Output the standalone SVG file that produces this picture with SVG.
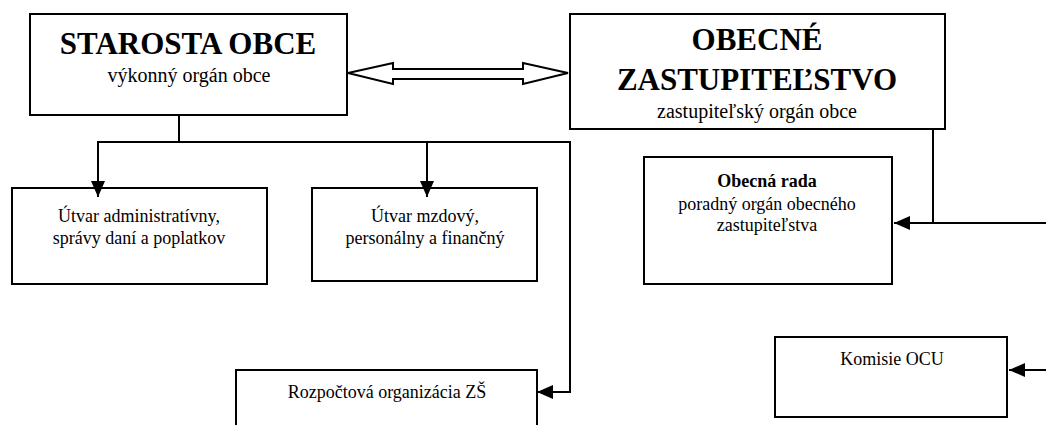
<svg xmlns="http://www.w3.org/2000/svg" width="1046" height="425" viewBox="0 0 1046 425">
<style>
.box{fill:#fff;stroke:#000;stroke-width:2}
.c{fill:none;stroke:#000;stroke-width:2}
</style>
<defs>
<marker id="ah" markerUnits="userSpaceOnUse" markerWidth="16" markerHeight="14" refX="16" refY="7" orient="auto">
<path d="M0,0 L16,7 L0,14 Z" fill="#000"/>
</marker>
</defs>
<rect width="1046" height="425" fill="#fff"/>
<g id="starosta" font-family="Liberation Serif" text-anchor="middle" fill="#000">
<rect class="box" x="30" y="14" width="317" height="101"/>
<text x="188" y="54" font-family="Liberation Serif" font-size="31" font-weight="bold">STAROSTA OBCE</text>
<text x="189" y="82" font-family="Liberation Serif" font-size="20">výkonný orgán obce</text>
</g>
<g id="zastupitelstvo" font-family="Liberation Serif" text-anchor="middle" fill="#000">
<rect class="box" x="570" y="14" width="375" height="115"/>
<text x="757" y="50" font-family="Liberation Serif" font-size="31" font-weight="bold">OBECNÉ</text>
<text x="757" y="90" font-family="Liberation Serif" font-size="31" font-weight="bold">ZASTUPITEĽSTVO</text>
<text x="757" y="118" font-family="Liberation Serif" font-size="20">zastupiteľský orgán obce</text>
</g>
<g id="utvar-admin" font-family="Liberation Serif" text-anchor="middle" fill="#000">
<rect class="box" x="12" y="188" width="255" height="96"/>
<text x="139" y="222" font-family="Liberation Serif" font-size="18">Útvar administratívny,</text>
<text x="139" y="244" font-family="Liberation Serif" font-size="18">správy daní a poplatkov</text>
</g>
<g id="utvar-mzdovy" font-family="Liberation Serif" text-anchor="middle" fill="#000">
<rect class="box" x="312" y="188" width="225" height="93"/>
<text x="425" y="222" font-family="Liberation Serif" font-size="18">Útvar mzdový,</text>
<text x="425" y="244" font-family="Liberation Serif" font-size="18">personálny a finančný</text>
</g>
<g id="obecna-rada" font-family="Liberation Serif" text-anchor="middle" fill="#000">
<rect class="box" x="644" y="157" width="248" height="127"/>
<text x="767" y="187" font-family="Liberation Serif" font-size="18" font-weight="bold">Obecná rada</text>
<text x="767" y="210" font-family="Liberation Serif" font-size="18">poradný orgán  obecného</text>
<text x="767" y="231" font-family="Liberation Serif" font-size="18">zastupiteľstva</text>
</g>
<g id="komisie" font-family="Liberation Serif" text-anchor="middle" fill="#000">
<rect class="box" x="775" y="337" width="232" height="80"/>
<text x="892" y="365" font-family="Liberation Serif" font-size="18">Komisie OCU</text>
</g>
<g id="rozpoctova" font-family="Liberation Serif" text-anchor="middle" fill="#000">
<rect class="box" x="236" y="370" width="301" height="80"/>
<text x="387" y="398" font-family="Liberation Serif" font-size="18">Rozpočtová organizácia ZŠ</text>
</g>
<g id="connectors">
<polygon points="348,73 393,63 393,69 523,69 523,63 568,73 523,84 523,79 393,79 393,84" fill="#fff" stroke="#000" stroke-width="2" stroke-linejoin="miter"/>
<path class="c" d="M179,115 V142 H98 V197" marker-end="url(#ah)"/>
<path class="c" d="M179,142 H427 V197" marker-end="url(#ah)"/>
<path class="c" d="M427,142 H570 V392 H537" marker-end="url(#ah)"/>
<path class="c" d="M933,129 V223"/>
<path class="c" d="M1046,223 H894" marker-end="url(#ah)"/>
<path class="c" d="M1046,370 H1009" marker-end="url(#ah)"/>
</g>
</svg>
